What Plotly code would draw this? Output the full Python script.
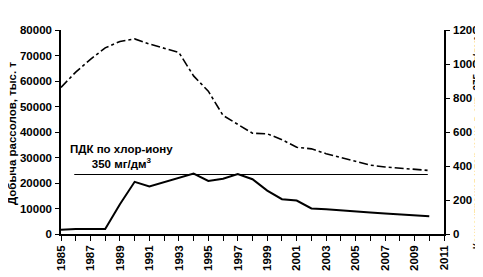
import plotly.graph_objects as go

years = list(range(1985, 2011))
extraction = [57500, 63500, 68500, 73000, 75500, 76500, 74500, 73000, 71200, 62000,
              56000, 46500, 43000, 39500, 39300, 37000, 34000, 33400, 31500, 30000,
              28500, 27000, 26300, 25800, 25300, 24900]
chloride = [25, 30, 30, 30, 175, 307, 280, 305, 330, 355,
            312, 325, 352, 322, 255, 205, 197, 150, 145, 140,
            133, 127, 120, 115, 110, 104]
pdk_years = [1985.9, 2009.9]
pdk_value = [350, 350]
x_tick_vals = list(range(1985, 2012, 2))
left_ticks = list(range(0, 80001, 10000))
right_ticks = list(range(0, 1201, 200))

FONT = "Liberation Sans, Arial, sans-serif"

fig = go.Figure()
fig.add_trace(go.Scatter(x=years, y=extraction, mode="lines",
                         line=dict(color="black", width=1.6, dash="dashdot"),
                         yaxis="y", showlegend=False))
fig.add_trace(go.Scatter(x=years, y=chloride, mode="lines",
                         line=dict(color="black", width=2),
                         yaxis="y2", showlegend=False))
fig.add_trace(go.Scatter(x=pdk_years, y=pdk_value, mode="lines",
                         line=dict(color="black", width=1),
                         yaxis="y2", showlegend=False))

tickfont = dict(family=FONT, size=11.5, color="black", weight="bold")

fig.update_layout(
    width=483, height=277,
    margin=dict(l=53, r=47, t=22, b=51, autoexpand=False),
    paper_bgcolor="white", plot_bgcolor="white",
    font=dict(family=FONT, color="black"),
    xaxis=dict(range=[1985, 2011], tickvals=x_tick_vals, tickangle=-90,
               ticks="outside", ticklen=5, tickwidth=1, tickcolor="black",
               showline=True, linecolor="black", linewidth=1.5, automargin=False,
               showgrid=False, zeroline=False, tickfont=tickfont,
               minor=dict(dtick=1, tick0=1985, ticks="outside", ticklen=5,
                          tickcolor="black", showgrid=False)),
    yaxis=dict(range=[0, 80000], tickvals=left_ticks, tickformat="d", ticks="outside",
               ticklen=4, tickcolor="black", showline=True, linecolor="black",
               linewidth=1.5, showgrid=False, zeroline=False, tickfont=tickfont,
               automargin=False, ticklabelstandoff=1),
    yaxis2=dict(range=[0, 1200], tickvals=right_ticks, tickformat="d", overlaying="y", side="right",
                ticks="outside", ticklen=4, tickcolor="black", showline=True,
                linecolor="black", linewidth=1.5, showgrid=False, zeroline=False,
                tickfont=tickfont, automargin=False, ticklabelstandoff=1),
)

fig.add_annotation(x=-0.128, y=0.495, xref="paper", yref="paper",
                   xanchor="center", yanchor="middle",
                   text="Добыча рассолов, тыс. т", textangle=-90, showarrow=False,
                   font=dict(family=FONT, size=11.5, color="black", weight="bold"))
fig.add_annotation(x=1.086, y=0.45, xref="paper", yref="paper",
                   xanchor="center", yanchor="middle",
                   text="Концентрация хлор-иона в скв. 375, мг/дм³", textangle=-90,
                   showarrow=False,
                   font=dict(family=FONT, size=10, color="black", weight="bold"))

fig.add_annotation(x=1989.1, y=362, xref="x", yref="y2",
                   text="ПДК по хлор-иону<br>350 мг/дм<sup>3</sup>",
                   showarrow=False, align="center", yanchor="bottom",
                   font=dict(family=FONT, size=11.5, color="black", weight="bold"))

fig.write_html("out.html")
